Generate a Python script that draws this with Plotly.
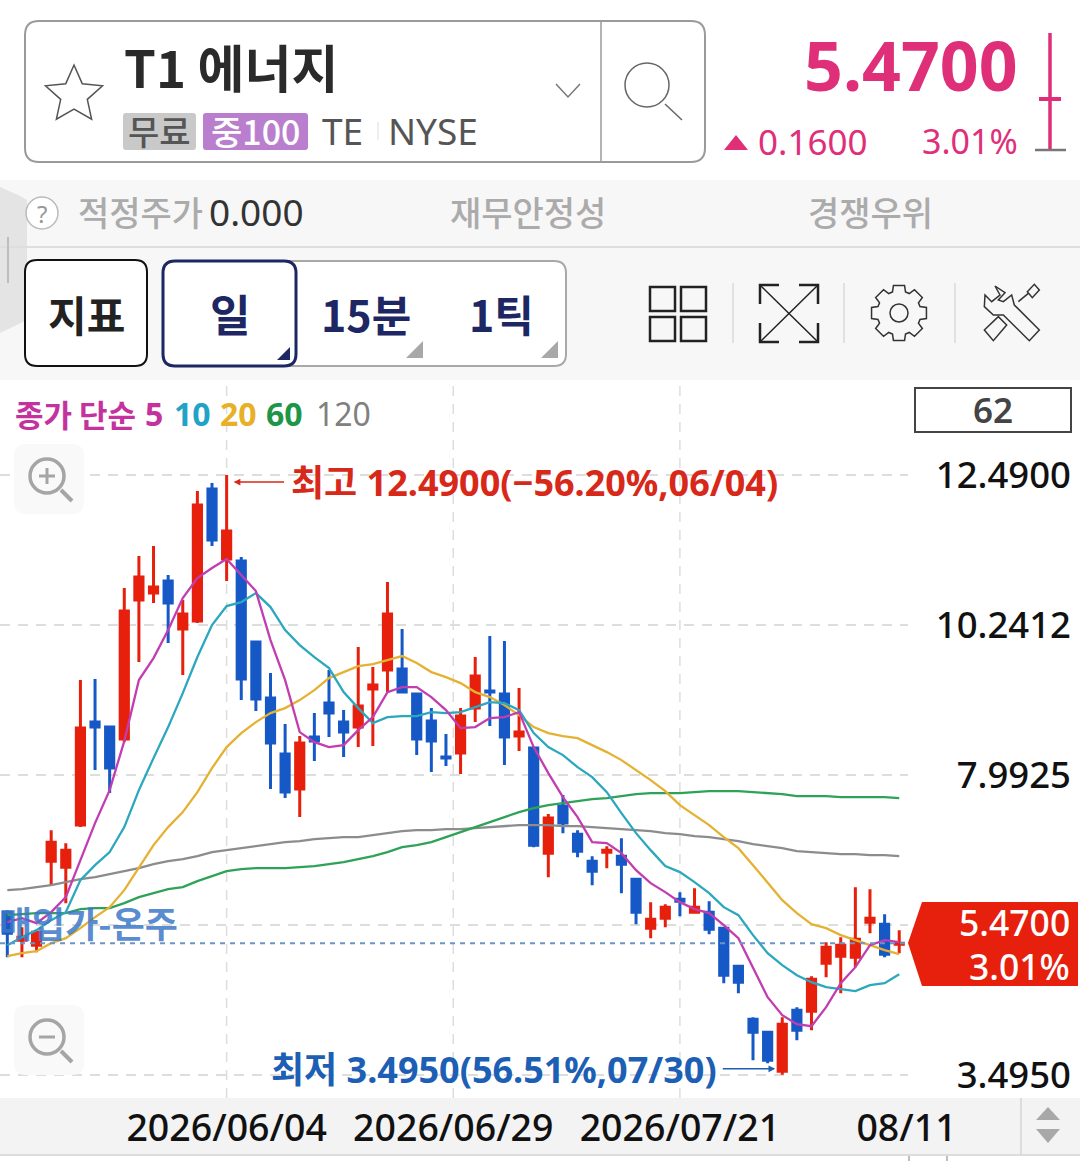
import math
import plotly.graph_objects as go

# ---------- data ----------
opens = [5.935,5.515,5.44,6.70,6.61,7.24,8.785,8.71,8.53,10.615,10.72,10.90,10.18,10.30,12.28,11.23,11.20,9.985,9.145,8.305,
         7.78,8.56,9.07,8.785,8.71,9.28,9.565,9.58,9.205,8.80,8.26,8.32,8.995,9.25,9.205,8.575,8.395,6.82,7.525,7.105,
         6.70,6.835,6.775,6.43,5.695,5.845,6.13,5.935,5.935,5.695,5.125,4.33,4.135,3.55,4.465,4.45,5.17,5.275,5.26,5.785,
         5.755,5.455]
highs = [5.965,5.71,5.665,7.165,6.97,9.415,9.43,8.725,10.795,11.275,11.425,10.99,10.615,12.25,12.37,12.49,11.26,10.0,9.52,8.755,
         8.575,8.92,9.565,8.965,9.91,9.61,10.885,10.18,9.205,8.995,8.605,8.995,9.76,10.075,10.0,9.295,8.395,7.405,7.69,7.165,
         6.775,6.925,7.045,6.445,6.085,6.055,6.235,6.295,6.10,5.695,5.14,4.36,4.15,4.36,4.51,4.975,5.485,5.56,6.31,6.28,
         5.905,5.665]
lows = [5.26,5.26,5.335,6.34,6.07,7.21,8.065,7.72,8.485,9.685,10.57,9.97,9.49,10.27,11.425,10.90,9.115,8.95,7.78,7.645,
        7.36,8.20,8.56,8.26,8.41,8.425,9.235,9.22,8.29,8.035,8.125,8.005,8.785,8.725,8.14,8.35,6.91,6.46,7.12,6.76,
        6.34,6.595,6.22,5.755,5.545,5.71,5.875,5.935,5.605,4.87,4.72,3.715,3.67,3.495,4.015,4.165,4.96,4.72,5.11,5.62,
        5.26,5.32]
closes = [5.62,5.56,5.635,6.985,6.865,8.695,8.71,8.095,10.45,10.96,10.81,10.57,10.405,12.04,11.515,11.65,9.43,9.13,8.47,7.735,
          8.47,8.50,8.92,8.635,9.025,9.34,10.405,9.235,8.53,8.50,8.245,8.875,9.475,9.235,8.56,8.635,6.94,7.345,7.27,6.85,
          6.55,6.865,6.655,5.935,5.83,6.01,6.10,6.01,5.68,4.99,4.885,4.135,3.715,4.255,4.165,4.93,5.41,5.44,5.53,5.845,
          5.305,5.47]
ma5 = [5.785,5.845,5.77,5.935,6.16,6.715,7.27,7.765,8.5,9.415,9.745,10.165,10.645,10.945,11.095,11.23,10.99,10.75,10.015,9.415,
       8.635,8.485,8.41,8.44,8.665,8.86,9.235,9.31,9.31,9.16,8.965,8.695,8.71,8.845,8.86,8.935,8.41,8.02,7.66,7.36,
       6.985,6.97,6.82,6.565,6.37,6.235,6.085,5.98,5.92,5.74,5.545,5.11,4.66,4.39,4.255,4.225,4.51,4.87,5.11,5.44,5.515,5.485]
ma10 = [5.44,5.56,5.665,5.815,5.935,6.415,6.64,6.835,7.21,7.765,8.245,8.71,9.22,9.76,10.24,10.525,10.585,10.72,10.51,10.165,
        9.94,9.76,9.595,9.235,8.995,8.77,8.86,8.875,8.875,8.935,8.92,8.935,9.01,9.085,9.07,8.965,8.62,8.41,8.29,8.11,
        7.96,7.735,7.42,7.12,6.865,6.625,6.535,6.385,6.22,6.01,5.89,5.59,5.32,5.14,4.99,4.885,4.81,4.78,4.75,4.84,4.87,5.005]
ma20 = [5.275,5.32,5.35,5.47,5.545,5.695,5.86,6.01,6.265,6.61,6.94,7.21,7.435,7.735,8.095,8.41,8.62,8.785,8.92,8.995,
        9.115,9.265,9.445,9.535,9.625,9.655,9.715,9.775,9.67,9.535,9.46,9.37,9.235,9.16,9.04,8.89,8.71,8.62,8.575,8.545,
        8.44,8.335,8.215,8.065,7.915,7.75,7.54,7.39,7.24,7.06,6.895,6.64,6.37,6.115,5.92,5.755,5.695,5.59,5.515,5.44,5.365,5.305]
ma60 = [5.89,5.905,5.92,5.92,5.92,5.98,5.995,5.995,6.07,6.16,6.22,6.28,6.31,6.40,6.475,6.55,6.58,6.595,6.595,6.595,
        6.61,6.625,6.655,6.685,6.73,6.775,6.835,6.91,6.94,6.985,7.06,7.135,7.21,7.285,7.36,7.435,7.495,7.54,7.57,7.60,
        7.63,7.645,7.675,7.705,7.72,7.72,7.72,7.735,7.75,7.75,7.75,7.735,7.72,7.705,7.675,7.675,7.675,7.66,7.66,7.66,7.66,7.645]
ma120 = [6.265,6.28,6.31,6.34,6.385,6.43,6.46,6.505,6.55,6.595,6.655,6.70,6.73,6.775,6.835,6.865,6.895,6.925,6.955,6.985,
         7.0,7.03,7.045,7.06,7.06,7.09,7.12,7.15,7.165,7.165,7.18,7.18,7.195,7.21,7.225,7.24,7.24,7.24,7.225,7.225,
         7.21,7.195,7.18,7.165,7.15,7.12,7.105,7.075,7.06,7.03,7.0,6.955,6.925,6.895,6.85,6.835,6.82,6.805,6.805,6.79,6.79,6.775]
price_ticks = [12.49, 10.2412, 7.9925, 5.7437, 3.495]
price_labels = ["12.4900", "10.2412", "7.9925", "", "3.4950"]
date_ticks = [15, 30.5, 46, 61.5]
date_labels = ["2026/06/04", "2026/06/29", "2026/07/21", "08/11"]
date_grid = [15, 30.5, 46]
last_price = 5.47
high_index, high_price = 15, 12.49
low_index, low_price = 53, 3.495

FONT = "Noto Sans, Noto Sans CJK KR, sans-serif"
KR = "Noto Sans CJK KR, Noto Sans, sans-serif"
RED, BLUE = "#E6200C", "#1558C6"
PINK = "#DE2F78"
W, H = 1080, 1161
X = lambda p: p / W
Y = lambda p: 1 - p / H

shapes, notes = [], []

def box(x0, y0, x1, y1, fill=None, line=None, lw=1, r=0, layer="below"):
    if r:
        d = (f"M{X(x0+r)} {Y(y0)} L{X(x1-r)} {Y(y0)} Q{X(x1)} {Y(y0)} {X(x1)} {Y(y0+r)} "
             f"L{X(x1)} {Y(y1-r)} Q{X(x1)} {Y(y1)} {X(x1-r)} {Y(y1)} "
             f"L{X(x0+r)} {Y(y1)} Q{X(x0)} {Y(y1)} {X(x0)} {Y(y1-r)} "
             f"L{X(x0)} {Y(y0+r)} Q{X(x0)} {Y(y0)} {X(x0+r)} {Y(y0)} Z")
        s = dict(type="path", path=d)
    else:
        s = dict(type="rect", x0=X(x0), x1=X(x1), y0=Y(y0), y1=Y(y1))
    s.update(xref="paper", yref="paper", layer=layer,
             fillcolor=fill or "rgba(0,0,0,0)",
             line=dict(color=line or "rgba(0,0,0,0)", width=lw if line else 0))
    shapes.append(s)

def poly(pts, fill=None, line=None, lw=1, closed=True, layer="above"):
    d = "M" + " L".join(f"{X(a)} {Y(b)}" for a, b in pts) + (" Z" if closed else "")
    shapes.append(dict(type="path", path=d, xref="paper", yref="paper", layer=layer,
                       fillcolor=fill or "rgba(0,0,0,0)",
                       line=dict(color=line or "rgba(0,0,0,0)", width=lw if line else 0)))

def seg(x0, y0, x1, y1, color, lw=1, layer="above"):
    shapes.append(dict(type="line", xref="paper", yref="paper", layer=layer,
                       x0=X(x0), x1=X(x1), y0=Y(y0), y1=Y(y1), line=dict(color=color, width=lw)))

def circ(cx, cy, r, line, lw=1, fill=None):
    shapes.append(dict(type="circle", xref="paper", yref="paper", layer="above",
                       x0=X(cx-r), x1=X(cx+r), y0=Y(cy-r), y1=Y(cy+r),
                       fillcolor=fill or "rgba(0,0,0,0)", line=dict(color=line, width=lw)))

def txt(x, y, s, size, color, anchor="left", bold=False, family=FONT, weight=None):
    f = dict(family=family, size=size, color=color)
    if weight:
        f["weight"] = weight
    notes.append(dict(xref="paper", yref="paper", x=X(x), y=Y(y), xanchor=anchor, yanchor="middle",
                      text=f"<b>{s}</b>" if bold else s, showarrow=False, borderpad=0, font=f))

# ---------- page bands ----------
box(0, 180, 1080, 380, fill="#F7F7F7")
seg(0, 247, 1080, 247, "#DEDEDE", 2)
box(0, 1098, 1080, 1155, fill="#F3F3F3")
seg(0, 1155, 1080, 1155, "#DDDDDD", 2)
box(909, 1155, 947, 1163, line="#AAAAAA", lw=1.5)
seg(1021, 1098, 1021, 1155, "#D5D5D5", 1.5)
poly([(1048, 1107), (1060, 1120), (1036, 1120)], fill="#A8A8A8")
poly([(1036, 1129), (1060, 1129), (1048, 1143)], fill="#A8A8A8")

# ---------- header ----------
box(25, 21, 705, 162, fill="#FFFFFF", line="#9A9A9A", lw=2, r=14)
seg(601, 21, 601, 162, "#9A9A9A", 1.5)
star = []
for k in range(10):
    r = 30 if k % 2 == 0 else 14
    a = -math.pi / 2 + k * math.pi / 5
    star.append((74 + r * math.cos(a), 95 + r * math.sin(a)))
poly(star, line="#555555", lw=1.5)
txt(123, 66, "T1 에너지", 51, "#2A2A2A", bold=True, family=KR)
box(123, 113, 196, 150, fill="#C9C9C9", r=3)
txt(159.5, 131, "무료", 34, "#555555", "center", family=KR, weight=500)
box(203, 113, 308, 150, fill="#B97FCE", r=3)
txt(255.5, 131, "중100", 34, "#FFFFFF", "center", family=KR, weight=500)
txt(321, 131, "TE", 37, "#555555")
seg(378, 122, 378, 140, "#DDDDDD", 1)
txt(387, 131, "NYSE", 37, "#555555")
poly([(556, 84), (568, 97), (580, 84)], line="#777777", lw=1.5, closed=False)
circ(647, 85, 22, "#666666", 1.5)
seg(665, 104, 682, 120, "#666666", 1.5)
txt(1019, 64, "5.4700", 68, PINK, "right", bold=True)
poly([(736, 135), (748, 150), (724, 150)], fill=PINK)
txt(757, 141, "0.1600", 35, PINK)
txt(1019, 141, "3.01%", 34, PINK, "right")
seg(1050, 33, 1050, 150, PINK, 3.5)
seg(1039, 99, 1061, 99, PINK, 4)
seg(1035, 150, 1066, 150, "#777777", 2.5)

# ---------- info bar ----------
poly([(0, 187), (18, 195), (27, 200), (27, 320), (0, 333)], fill="#E4E4E4", layer="below")
seg(8, 237, 8, 283, "#BDBDBD", 2)
circ(42, 213, 16, "#BBBBBB", 1.5, "#FFFFFF")
txt(42, 213, "?", 24, "#999999", "center")
txt(77, 212, "적정주가", 34, "#ABABAB", family=KR, weight=500)
txt(208, 212, "0.000", 37, "#333333")
txt(449, 212, "재무안정성", 34, "#ABABAB", family=KR, weight=500)
txt(807, 212, "경쟁우위", 34, "#ABABAB", family=KR, weight=500)

# ---------- buttons ----------
box(25, 260, 147, 366, fill="#FFFFFF", line="#111111", lw=2, r=12)
txt(86, 313, "지표", 42, "#222222", "center", bold=True, family=KR)
box(163, 261, 566, 366, fill="#FFFFFF", line="#A8A8A8", lw=2, r=12)
box(163, 261, 296, 366, fill="#FFFFFF", line="#1C2763", lw=3, r=12)
txt(230, 313, "일", 44, "#1C2763", "center", bold=True, family=KR)
txt(320, 313, "15분", 43, "#1C2763", bold=True, family=KR)
txt(468, 313, "1틱", 43, "#1C2763", bold=True, family=KR)
poly([(290, 347), (290, 360), (277, 360)], fill="#1C2763")
poly([(423, 341), (423, 358), (406, 358)], fill="#A8A8A8")
poly([(558, 341), (558, 358), (541, 358)], fill="#A8A8A8")
for a, b in [(650, 287), (681, 287), (650, 317), (681, 317)]:
    box(a, b, a + 25, b + 24, line="#222222", lw=2.5, layer="above")
for a in (733, 844, 955):
    seg(a, 283, a, 343, "#DADADA", 1.5)
seg(760, 285, 818, 342, "#222222", 1.5)
seg(818, 285, 760, 342, "#222222", 1.5)
poly([(760, 304), (760, 285), (779, 285)], line="#222222", lw=2.5, closed=False)
poly([(799, 285), (818, 285), (818, 304)], line="#222222", lw=2.5, closed=False)
poly([(760, 323), (760, 342), (779, 342)], line="#222222", lw=2.5, closed=False)
poly([(799, 342), (818, 342), (818, 323)], line="#222222", lw=2.5, closed=False)
gear = []
for k in range(8):
    a = k * math.pi / 4 - math.pi / 2
    for da, r in [(-0.3, 22), (-0.2, 28), (0.2, 28), (0.3, 22)]:
        gear.append((899 + r * math.cos(a + da), 313 + r * math.sin(a + da)))
poly(gear, line="#333333", lw=1.5)
circ(899, 313, 9, "#333333", 1.5)
tool = [(1125, 858), (1155, 878), (1135, 900), (1150, 905), (1175, 885), (1183, 915), (1258, 990), (1228, 1022),
        (1150, 945), (1120, 945), (1093, 920), (1095, 885), (1115, 905), (1140, 885)]
poly([(620 + a / 3, b / 3) for a, b in tool], line="#333333", lw=1.5)
poly([(620 + a / 3, b / 3) for a, b in [(1093, 990), (1135, 950), (1160, 975), (1120, 1022)]], line="#333333", lw=1.5)
seg(620 + 1195 / 3, 905 / 3, 620 + 1225 / 3, 880 / 3, "#333333", 1.5)
poly([(620 + a / 3, b / 3) for a, b in [(1222, 875), (1243, 853), (1258, 870), (1237, 893)]], line="#333333", lw=1.5)

# ---------- chart overlays ----------
txt(14, 414, "종가 단순", 31, "#C4329E", bold=True, family=KR)
for x0, s, c in [(144, "5", "#C4329E"), (173, "10", "#1FA3C6"), (219, "20", "#E8B027"), (265, "60", "#1E9648"), (315, "120", "#808080")]:
    txt(x0, 414, s, 32, c, bold=(s != "120"))
box(915, 388, 1071, 432, fill="#FFFFFF", line="#444444", lw=2, layer="above")
txt(993, 409, "62", 35, "#444444", "center", weight=600)
for cy, plus in [(476, True), (1037, False)]:
    box(14, cy - 32, 84, cy + 38, fill="#F9F9F9", r=12, layer="above")
    circ(47, cy, 17, "#A5A5A5", 3.5)
    seg(61, cy + 14, 72, cy + 25, "#A5A5A5", 4)
    seg(39, cy, 55, cy, "#A5A5A5", 3)
    if plus:
        seg(47, cy - 8, 47, cy + 8, "#A5A5A5", 3)
poly([(908, 943), (922, 902), (1078, 902), (1078, 986), (922, 986)], fill=RED)
txt(1071, 922, "5.4700", 35.5, "#FFFFFF", "right", weight=500)
txt(1071, 966, "3.01%", 35.5, "#FFFFFF", "right", weight=500)

for g in date_grid:
    shapes.append(dict(type="line", xref="x", yref="paper", x0=g, x1=g, y0=Y(1098), y1=Y(380), layer="below",
                       line=dict(color="#DDDDDD", width=1.5, dash="10px,8px")))
shapes.append(dict(type="line", xref="paper", yref="y", x0=0, x1=X(908), y0=last_price, y1=last_price, layer="above",
                   line=dict(color="#6C95C6", width=2, dash="5px,5px")))

notes.append(dict(x=high_index, y=high_price, xref="x", yref="y", xshift=7, yshift=-7, text="", showarrow=True, ax=52, ay=0,
                  arrowhead=2, arrowsize=0.9, arrowwidth=1.5, arrowcolor="#D8281A"))
notes.append(dict(x=high_index, y=high_price, xref="x", yref="y", xshift=62, yshift=-7, xanchor="left", yanchor="middle",
                  showarrow=False, text="<b>최고 12.4900(−56.20%,06/04)</b>",
                  font=dict(family=FONT, size=36, color="#D8281A")))
notes.append(dict(x=low_index, y=low_price, xref="x", yref="y", xshift=-7, yshift=6, text="", showarrow=True, ax=-54, ay=0,
                  arrowhead=2, arrowsize=0.9, arrowwidth=1.5, arrowcolor="#1C5FB4"))
notes.append(dict(x=low_index, y=low_price, xref="x", yref="y", xshift=-63, yshift=5, xanchor="right", yanchor="middle",
                  showarrow=False, text="<b>최저 3.4950(56.51%,07/30)</b>",
                  font=dict(family=FONT, size=36, color="#1C5FB4")))
txt(-2, 922, "<b>매입가-온주</b>", 36, "rgba(60,120,200,0.85)", family=KR)

# ---------- traces ----------
idx = list(range(len(closes)))
fig = go.Figure()
for name, vals, color in [("120", ma120, "#8C8C8C"), ("60", ma60, "#2EA257"), ("20", ma20, "#E5B133"),
                          ("10", ma10, "#2BA7BE"), ("5", ma5, "#C23DB0")]:
    fig.add_trace(go.Scatter(x=idx, y=vals, mode="lines", name=name, line=dict(color=color, width=2.3)))
fig.add_trace(go.Candlestick(x=idx, open=opens, high=highs, low=lows, close=closes, whiskerwidth=0,
                             increasing=dict(line=dict(color=RED, width=3), fillcolor=RED),
                             decreasing=dict(line=dict(color=BLUE, width=3), fillcolor=BLUE)))

fig.update_layout(
    width=W, height=H, margin=dict(l=0, r=0, t=0, b=0, autoexpand=False), showlegend=False,
    paper_bgcolor="#FFFFFF", plot_bgcolor="rgba(0,0,0,0)", boxgap=0.2,
    shapes=shapes, annotations=notes, font=dict(family=FONT),
    xaxis=dict(domain=[0, 908 / W], range=[-0.5, 61.6], rangeslider=dict(visible=False), tickmode="array",
               tickvals=date_ticks, ticktext=date_labels, showgrid=False, zeroline=False, ticks="",
               showline=False, tickfont=dict(family=FONT, size=37.5, color="#111111", weight=500), tickangle=0,
               ticklabelstandoff=4),
    yaxis=dict(domain=[Y(1098), Y(380)], range=[3.148, 13.915], anchor="free", position=1071 / W, side="left",
               tickmode="array", tickvals=price_ticks, ticktext=price_labels, showgrid=True, gridcolor="#DDDDDD",
               griddash="10px,8px", gridwidth=1.5, zeroline=False, showline=False, ticks="",
               tickfont=dict(family=FONT, size=36.5, color="#111111", weight=500)),
)
fig.write_html("out.html", config=dict(displayModeBar=False),
               post_script="document.body.style.margin='0';document.body.style.overflow='hidden';")
